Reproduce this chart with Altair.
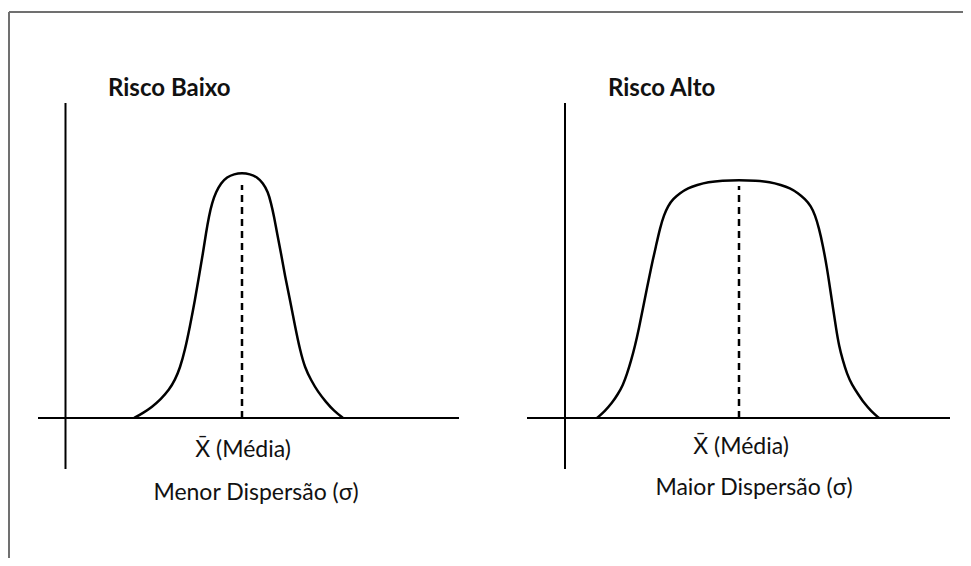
import altair as alt
import pandas as pd

# ---- curve data (x position, height above the baseline) ----
low_x = [134, 143, 152, 161, 169, 175, 180, 185, 190, 195, 199, 203, 206, 209, 212, 216,
         221, 227, 234, 242,
         250, 257, 263, 268, 271, 274, 277, 281, 285, 290, 295, 300, 305, 311, 318, 326, 334, 343]
low_h = [0, 5, 11, 19, 28, 38, 50, 68, 92, 118, 142, 165, 185, 202, 215, 226,
         235, 241, 244, 245,
         244, 241, 235, 226, 215, 202, 185, 165, 142, 118, 92, 68, 50, 38, 26, 16, 7, 0]

high_x = [597, 605, 612, 618, 623, 627, 631, 635, 639, 643, 647, 651, 656, 660, 664, 668,
          673, 680, 688, 697, 708, 722, 739,
          756, 770, 781, 790, 798, 805, 811, 815, 819, 823, 827, 830, 833, 836, 839, 843,
          847, 852, 858, 864, 871, 879]
high_h = [0, 7, 15, 24, 33, 44, 57, 72, 90, 110, 130, 150, 172, 190, 203, 212,
          219, 225, 230, 233, 236, 237.5, 238,
          237.5, 236, 233, 230, 225, 219, 212, 203, 190, 172, 150, 130, 110, 90, 72, 57,
          44, 33, 24, 15, 7, 0]

# ---- axis segments (x, x2, y, y2) ----
ax_x = [38, 527, 65.5, 565]
ax_x2 = [459, 950, 65.5, 565]
ax_y = [0, 0, 315, 315]
ax_y2 = [0, 0, -51, -51]

# mean (dashed) lines
mean_x = [242, 739]
mean_top = [233, 232]

# frame lines
frame_x = [9, 9]
frame_x2 = [963, 9]
frame_y = [406, 406]
frame_y2 = [406, -140]

# ---- labels ----
title_text = ["Risco Baixo", "Risco Alto"]
title_x = [108, 608]
title_y = [322, 322]

mean_text = ["X\u0304 (Média)", "X\u0304 (Média)"]
mean_lx = [243, 741]
mean_ly = [-39, -36]

disp_text = ["Menor Dispersão (σ)", "Maior Dispersão (σ)"]
disp_x = [256, 754]
disp_y = [-82, -77]

xs = alt.Scale(domain=[8, 963], nice=False, zero=False)
ys = alt.Scale(domain=[-140, 410], nice=False, zero=False)

curves = pd.DataFrame({
    "x": low_x + high_x,
    "h": low_h + high_h,
    "panel": ["low"] * len(low_x) + ["high"] * len(high_x),
})
axes_df = pd.DataFrame({"x": ax_x, "x2": ax_x2, "y": ax_y, "y2": ax_y2})
mean_df = pd.DataFrame({"x": mean_x, "y": [0, 0], "y2": mean_top})
frame_df = pd.DataFrame({"x": frame_x, "x2": frame_x2, "y": frame_y, "y2": frame_y2})
titles_df = pd.DataFrame({"t": title_text, "x": title_x, "y": title_y})
means_df = pd.DataFrame({"t": mean_text, "x": mean_lx, "y": mean_ly})
disp_df = pd.DataFrame({"t": disp_text, "x": disp_x, "y": disp_y})

frame = alt.Chart(frame_df).mark_rule(color="#707070", strokeWidth=2).encode(
    x=alt.X("x:Q", scale=xs, axis=None), x2="x2:Q",
    y=alt.Y("y:Q", scale=ys, axis=None), y2="y2:Q")

axes = alt.Chart(axes_df).mark_rule(color="black", strokeWidth=2).encode(
    x=alt.X("x:Q", scale=xs, axis=None), x2="x2:Q",
    y=alt.Y("y:Q", scale=ys, axis=None), y2="y2:Q")

means = alt.Chart(mean_df).mark_rule(color="black", strokeWidth=2.5, strokeDash=[7, 5]).encode(
    x=alt.X("x:Q", scale=xs, axis=None),
    y=alt.Y("y:Q", scale=ys, axis=None), y2="y2:Q")

lines = alt.Chart(curves).mark_line(color="black", strokeWidth=2.5, interpolate="basis").encode(
    x=alt.X("x:Q", scale=xs, axis=None),
    y=alt.Y("h:Q", scale=ys, axis=None),
    detail="panel:N")

titles = alt.Chart(titles_df).mark_text(
    font="Lato", fontSize=24, fontWeight="bold", align="left", baseline="alphabetic",
    color="#111111").encode(
    x=alt.X("x:Q", scale=xs, axis=None), y=alt.Y("y:Q", scale=ys, axis=None), text="t:N")

mean_labels = alt.Chart(means_df).mark_text(
    font="Lato", fontSize=23, align="center", baseline="alphabetic", color="#111111").encode(
    x=alt.X("x:Q", scale=xs, axis=None), y=alt.Y("y:Q", scale=ys, axis=None), text="t:N")

disp_labels = alt.Chart(disp_df).mark_text(
    font="Lato", fontSize=23, align="center", baseline="alphabetic", color="#111111").encode(
    x=alt.X("x:Q", scale=xs, axis=None), y=alt.Y("y:Q", scale=ys, axis=None), text="t:N")

chart = alt.layer(frame, axes, means, lines, titles, mean_labels, disp_labels).properties(
    width=955, height=550, padding=0, autosize="none",
    background="white",
).configure_view(stroke=None)

chart.save("out.html", embed_options={"renderer": "svg", "actions": False})
